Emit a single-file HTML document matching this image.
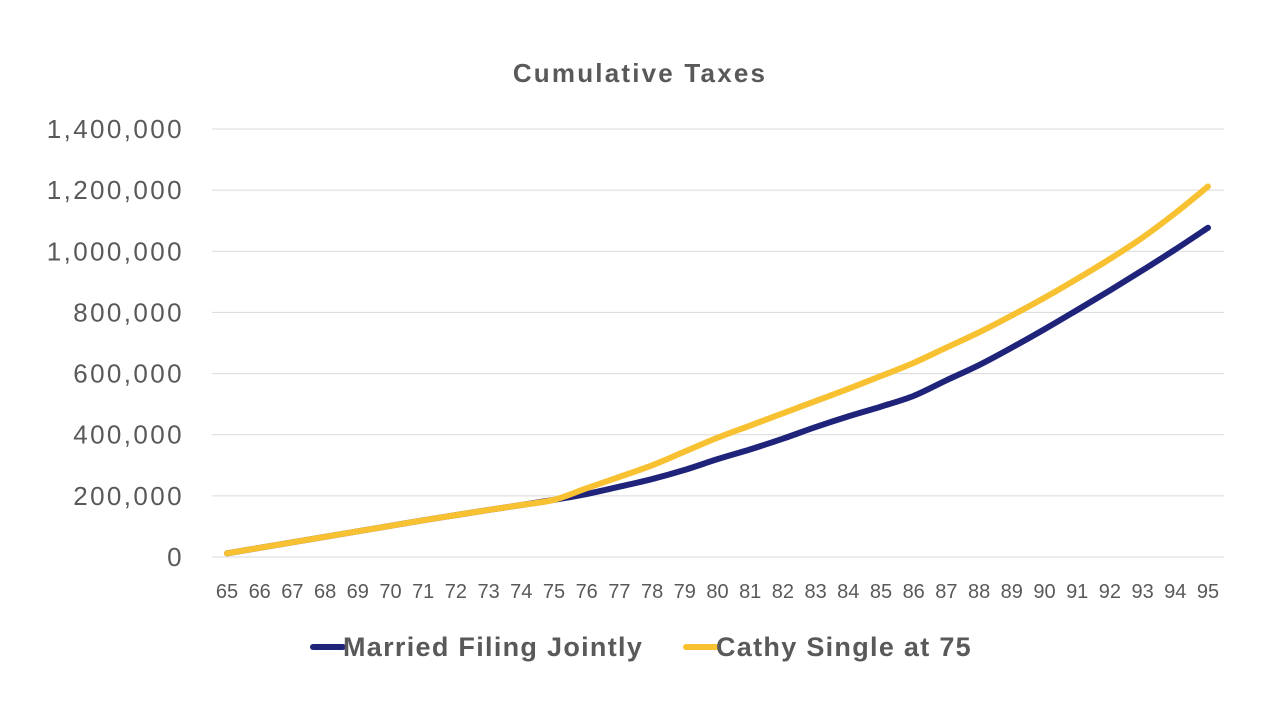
<!DOCTYPE html>
<html><head><meta charset="utf-8"><style>
body{margin:0;background:#fff;font-family:"Liberation Sans",sans-serif}
svg text{font-family:"Liberation Sans",sans-serif;fill:#595959}
</style></head><body>
<svg id="chart" width="1280" height="720">
<text x="640" y="82" text-anchor="middle" font-size="26" font-weight="bold" letter-spacing="2.2">Cumulative Taxes</text>
<g id="grid"></g><g id="yt"></g><g id="xt"></g><g id="lines"></g>
<g>
<g><line x1="313" y1="647" x2="343" y2="647" stroke="#1f237a" stroke-width="6" stroke-linecap="round"/><text x="343" y="656" font-size="27" font-weight="bold" letter-spacing="1.3">Married Filing Jointly</text></g>
<g><line x1="686" y1="647" x2="716" y2="647" stroke="#f8c132" stroke-width="6" stroke-linecap="round"/><text x="716" y="656" font-size="27" font-weight="bold" letter-spacing="1.3">Cathy Single at 75</text></g>
</g>
</svg>
<script>
const ages=[65,66,67,68,69,70,71,72,73,74,75,76,77,78,79,80,81,82,83,84,85,86,87,88,89,90,91,92,93,94,95];
const married=[12,30,48,66,84,102,120,137,154,170,187,206,230,255,285,320,352,387,425,460,492,527,578,628,685,745,808,872,938,1006,1077];
const cathy=[12,30,48,66,84,102,120,137,154,170,187,225,262,300,345,390,430,470,510,550,592,635,685,735,790,848,910,975,1045,1125,1212];
const yTicks=[0,200,400,600,800,1000,1200,1400];
const yLabels=["0","200,000","400,000","600,000","800,000","1,000,000","1,200,000","1,400,000"];
const NS="http://www.w3.org/2000/svg";
const X=i=>227+i*(1208-227)/(ages.length-1);
const Y=v=>557-v*(557-129)/1400;
const grid=document.getElementById('grid'),yt=document.getElementById('yt'),xt=document.getElementById('xt'),lines=document.getElementById('lines');
yTicks.forEach((t,i)=>{
 const l=document.createElementNS(NS,'line');
 l.setAttribute('x1',212);l.setAttribute('x2',1224);l.setAttribute('y1',Y(t));l.setAttribute('y2',Y(t));
 l.setAttribute('stroke','#d9d9d9');l.setAttribute('stroke-width','1');
 
 
 grid.appendChild(l);
 const tx=document.createElementNS(NS,'text');
 tx.setAttribute('x',184);tx.setAttribute('y',Y(t)+9);tx.setAttribute('text-anchor','end');tx.setAttribute('font-size','26');
 tx.setAttribute('letter-spacing','2.4');
 tx.textContent=yLabels[i];
 
 
 yt.appendChild(tx);
});
ages.forEach((a,i)=>{
 const tx=document.createElementNS(NS,'text');
 tx.setAttribute('x',X(i));tx.setAttribute('y',598);tx.setAttribute('text-anchor','middle');tx.setAttribute('font-size','20');
 tx.textContent=a;
 
 
 xt.appendChild(tx);
});
function draw(vals,color,name){
 const pts=vals.map((v,i)=>[X(i),Y(v)]);
 let d='M'+pts[0][0]+','+pts[0][1];
 for(let i=0;i<pts.length-1;i++){
  const p0=pts[Math.max(0,i-1)],p1=pts[i],p2=pts[i+1],p3=pts[Math.min(pts.length-1,i+2)];
  const c1=[p1[0]+(p2[0]-p0[0])/6,p1[1]+(p2[1]-p0[1])/6];
  const c2=[p2[0]-(p3[0]-p1[0])/6,p2[1]-(p3[1]-p1[1])/6];
  d+=' C'+c1[0]+','+c1[1]+' '+c2[0]+','+c2[1]+' '+p2[0]+','+p2[1];
 }
 const p=document.createElementNS(NS,'path');
 p.setAttribute('d',d);
 p.setAttribute('fill','none');p.setAttribute('stroke',color);p.setAttribute('stroke-width','6');
 p.setAttribute('stroke-linecap','round');p.setAttribute('stroke-linejoin','round');
 
 
 lines.appendChild(p);
}
draw(married,'#1f237a','married-line');
draw(cathy,'#f8c132','cathy-line');
</script>
</body></html>
